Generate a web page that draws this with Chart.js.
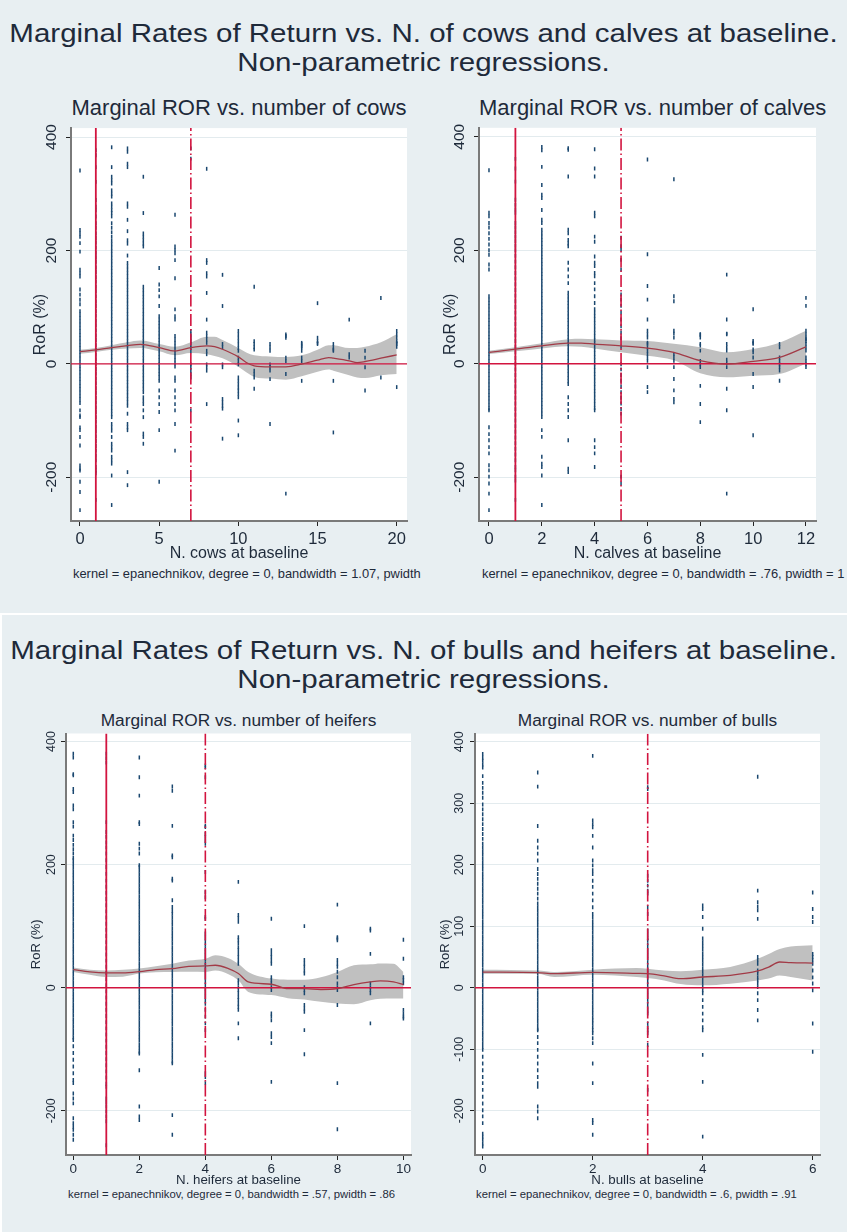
<!DOCTYPE html>
<html><head><meta charset="utf-8">
<script src="https://cdn.jsdelivr.net/npm/chart.js@4.4.1/dist/chart.umd.min.js"></script>
<style>
html,body{margin:0;padding:0}
body{background:#e8eff2;width:847px;height:1232px;position:relative;overflow:hidden;font-family:"Liberation Sans",Arial,sans-serif;color:#1e2a3a}
.abs{position:absolute;white-space:nowrap}
.main{left:0;width:847px;text-align:center;font-size:26px;line-height:29px;transform:scaleX(1.135);transform-origin:423.5px 0}
.pt{text-align:center;line-height:1}
.note{overflow:hidden;line-height:1}
canvas{position:absolute}
</style></head><body>
<div class="abs main" style="top:19px">Marginal Rates of Return vs. N. of cows and calves at baseline.<br>Non-parametric regressions.</div>
<div class="abs" style="left:0;top:613px;width:847px;height:2px;background:#fff"></div>
<div class="abs" style="left:0;top:613px;width:2px;height:619px;background:#fff"></div>
<div class="abs main" style="top:636px">Marginal Rates of Return vs. N. of bulls and heifers at baseline.<br>Non-parametric regressions.</div>

<div class="abs pt" style="left:71px;width:336px;top:97px;font-size:22px">Marginal ROR vs. number of cows</div>
<div class="abs pt" style="left:479px;width:337px;top:97px;font-size:22px">Marginal ROR vs. number of calves</div>
<div class="abs pt" style="left:66px;width:345px;top:712px;font-size:17.3px">Marginal ROR vs. number of heifers</div>
<div class="abs pt" style="left:475px;width:345px;top:712px;font-size:17.3px">Marginal ROR vs. number of bulls</div>

<div class="abs note" style="left:73px;width:350px;top:568px;font-size:12.9px">kernel = epanechnikov, degree = 0, bandwidth = 1.07, pwidth</div>
<div class="abs note" style="left:482px;width:365px;top:568px;font-size:12.9px">kernel = epanechnikov, degree = 0, bandwidth = .76, pwidth = 1</div>
<div class="abs note" style="left:68px;width:355px;top:1189px;font-size:11.3px">kernel = epanechnikov, degree = 0, bandwidth = .57, pwidth = .86</div>
<div class="abs note" style="left:476px;width:371px;top:1189px;font-size:11.3px">kernel = epanechnikov, degree = 0, bandwidth = .6, pwidth = .91</div>

<canvas id="c1" width="404" height="446" style="left:20px;top:120px"></canvas>
<canvas id="c2" width="417" height="446" style="left:430px;top:120px"></canvas>
<canvas id="c3" width="409" height="462" style="left:15px;top:728px"></canvas>
<canvas id="c4" width="422" height="462" style="left:425px;top:728px"></canvas>

<script>
// ================= DATA =================
// ---- Cows ----
const cowsX = [0,1,2,3,4,5,6,7,8,9,10,11,12,13,14,15,16,17,18,19,20];
const cowsRoR = [
 [341,236,230,224,213,198,166,160,154,131,122,113,105,93,87,81,75,69,63,57,51,45,39,33,27,21,15,9,3,-3,-9,-15,-21,-27,-33,-39,-45,-51,-57,-63,-69,-82,-91,-94,-112,-117,-129,-144,-179,-185,-188,-208,-226,-258],
 [377,368,347,321,289,277,271,260,248,240,230,222,214,205,196,188,180,170,162,153,145,136,128,119,110,102,93,85,76,68,59,50,42,33,25,16,8,0,-9,-17,-26,-34,-43,-51,-60,-68,-77,-85,-94,-102,-111,-119,-128,-136,-145,-153,-162,-170,-182,-188,-193,-240],
 [382,347,330,324,318,306,300,295,283,277,271,266,260,248,240,232,224,217,211,205,199,193,187,181,175,169,163,157,151,145,139,133,127,121,115,109,103,97,91,85,79,73,67,61,55,49,43,37,31,25,19,13,7,1,-5,-11,-17,-23,-29,-35,-41,-47,-53,-59,-65,-71,-77,-83,-89,-94,-106,-112,-118,-129,-141,-147,-153,-164,-170,-176,-197,-249],
 [380,374,353,347,283,277,254,234,218,212,191,178,172,166,160,154,148,142,136,130,124,118,112,106,100,94,88,82,76,70,64,58,52,46,40,34,28,22,16,10,4,-2,-8,-14,-20,-26,-32,-38,-44,-50,-56,-62,-68,-74,-88,-106,-112,-117,-191,-214],
 [330,266,230,224,218,212,207,136,130,124,118,112,106,100,94,88,82,76,70,64,58,52,46,40,34,28,22,16,10,4,-2,-8,-14,-20,-26,-32,-38,-44,-50,-59,-65,-71,-82,-94,-123,-129,-141],
 [169,140,130,119,102,84,78,72,66,60,54,48,42,36,30,24,18,12,6,0,-6,-12,-18,-24,-30,-47,-59,-71,-85,-117,-208],
 [263,207,201,195,183,151,96,84,78,49,43,37,31,25,19,13,7,1,-5,-24,-30,-47,-59,-71,-82,-106,-153],
 [380,362,58,52,46,40,34,28,22,-1,-6,-12,-18,-24,-82],
 [344,183,178,160,154,125,78,55,49,43,37,23,17,-1,-6,-12,-71],
 [157,102,35,29,-1,-6,-62,-68,-74,-79,-132],
 [58,52,46,40,34,28,23,11,5,-1,-24,-30,-36,-42,-47,-53,-59,-100,-126],
 [136,40,35,29,25,-12,-18,-24,-44],
 [35,29,23,-1,-6,-12,-27,-106],
 [52,49,46,11,5,-18,-229],
 [37,35,31,29,23,11,5,-30],
 [107,46,40,37,35],
 [35,29,25,23,-30,-121],
 [78,17,11],
 [23,11,-6,-47],
 [116,-24],
 [58,52,46,40,37,35,30,-41]
];
const cowsGridX = [0,1,2,3,3.8,5,6,7,8,8.5,9,10,10.5,11,12,13,14,15,15.7,16,17,17.5,18,19,20];
const cowsFit   = [21.6,24.6,28.7,32.2,34.5,28.7,22.8,28.7,31.6,30.4,25.7,12.3,2.3,-3.5,-5.3,-5.3,-0.6,6.4,11.1,9.9,5.3,2.3,4.1,9.9,15.8];
const cowsUpper = [25,28,33,38,41,35,30,38,48,48,42,28,20,15,13,12,15,25,33,33,28,28,30,38,52];
const cowsLower = [18,21,25,27,28,22,15,19,17,14,10,-5,-15,-23,-26,-28,-22,-14,-10,-12,-20,-24,-25,-20,-18];
const cowsXTicks = [0,5,10,15,20];
const cowsYTicks = [-200,0,200,400];
const cowsThresholds = [1,7];

// ---- Calves ----
const calvesX = [0,1,2,3,4,5,6,7,8,9,10,11,12];
const calvesRoR = [
 [341,266,260,248,240,230,220,210,200,192,175,166,119,113,107,101,95,89,83,77,71,65,59,53,47,41,35,29,23,17,11,5,-1,-7,-13,-19,-25,-31,-37,-43,-49,-55,-61,-67,-73,-79,-82,-112,-124,-135,-147,-158,-179,-188,-199,-211,-229,-258],
 [361,344,321,289,280,272,266,248,240,232,224,216,208,200,190,180,170,160,150,140,130,120,110,100,90,80,70,60,50,40,30,20,10,0,-10,-20,-30,-40,-50,-60,-70,-80,-90,-100,-110,-120,-130,-140,-150,-160,-170,-182,-188,-199,-206,-240],
 [382,376,347,315,298,292,271,254,248,236,230,224,218,212,206,200,194,188,182,176,170,164,158,152,146,140,134,128,122,116,110,104,98,92,86,80,74,68,62,56,50,44,38,32,26,20,14,8,2,-4,-10,-16,-22,-28,-34,-40,-46,-52,-58,-64,-70,-76,-82,-88,-94,-117,-129,-164,-176,-182,-197,-249],
 [380,377,330,236,230,218,212,207,178,166,154,142,125,119,113,107,101,95,89,83,77,71,65,59,53,47,41,35,29,23,17,11,5,-1,-7,-13,-19,-25,-31,-36,-59,-71,-82,-94,-135,-185,-191],
 [378,344,330,266,260,224,215,189,178,172,160,154,142,131,119,107,96,90,84,78,72,66,60,54,48,42,36,30,24,18,12,6,0,-6,-12,-18,-24,-30,-36,-42,-48,-54,-60,-66,-72,-78,-82,-135,-147,-158,-182],
 [222,207,201,183,166,122,113,102,90,78,66,55,45,30,-1,-10,-20,-30,-40,-50,-60,-70,-80,-88,-199,-211],
 [360,193,137,113,78,58,52,46,37,35,29,23,17,11,5,-6,-41,-50],
 [325,119,110,58,53,46,17,11,5,-6,-27,-47,-62,-68],
 [52,51,46,35,32,23,5,-1,-6,-39,-71,-103],
 [157,78,53,52,35,29,23,7,1,-6,-44,-82,-229],
 [96,40,37,35,25,20,11,-18,-41,-126],
 [35,29,11,5,-1,-6,-12,-30],
 [116,102,58,52,46,43,40,35,29,23,11,5,-1,-6]
];
const calvesGridX = [0,1,2,3,3.5,4,5,6,7,8,9,10,11,12];
const calvesFit   = [19.9,25.7,31.6,36.3,36.3,34.5,31.6,27.5,19.9,5.3,-0.6,4.1,11.1,29.8];
const calvesUpper = [23,29,36,43,44,43,41,40,35,29,20,26,37,58];
const calvesLower = [17,22,27,31,30,27,20,14,6,-17,-24,-21,-18,0];
const calvesXTicks = [0,2,4,6,8,10,12];
const calvesYTicks = [-200,0,200,400];
const calvesThresholds = [1,5];

// ---- Heifers ----
const heifersX = [0,1,2,3,4,5,6,7,8,9,10];
const heifersRoR = [
 [380,374,347,345,323,318,296,290,269,262,247,240,232,225,218,211,207,201,195,189,183,177,171,165,159,153,147,141,135,129,123,117,111,105,99,93,87,81,75,69,63,57,51,45,39,33,27,21,15,9,3,-3,-9,-15,-21,-27,-33,-39,-45,-51,-57,-63,-69,-75,-81,-85,-95,-106,-117,-128,-139,-150,-155,-172,-180,-188,-212,-220,-226,-231,-239,-247],
 [380,373,366,269,253,245,236,228,218,207,196,185,174,164,154,144,134,124,114,104,94,84,74,64,54,44,34,24,14,4,-6,-16,-26,-36,-46,-56,-66,-76,-86,-96,-106,-116,-126,-136,-146,-156,-161,-180,-186,-193,-201,-209,-217,-256],
 [374,342,312,269,266,234,226,218,199,196,190,184,178,172,166,160,154,148,142,136,130,124,118,112,106,100,94,88,82,76,70,64,58,52,46,40,34,28,22,16,10,4,-2,-8,-14,-20,-26,-32,-38,-44,-50,-56,-62,-68,-74,-80,-86,-92,-98,-104,-107,-134,-193,-209,-215],
 [327,320,263,215,212,177,174,142,131,125,120,114,108,102,96,90,84,78,72,66,60,54,48,42,36,30,24,18,12,6,0,-6,-12,-18,-24,-30,-36,-42,-48,-54,-60,-66,-72,-78,-84,-90,-96,-102,-108,-114,-120,-123,-207,-239],
 [361,358,342,263,261,250,245,239,234,188,155,147,115,112,88,82,76,70,64,58,52,46,40,34,28,22,16,10,4,-2,-8,-14,-20,-26,-36,-47,-58,-69,-139,-145,-155],
 [172,118,113,107,82,77,72,66,61,55,50,44,39,12,7,1,-4,-9,-15,-20,-26,-31,-36,-58,-82],
 [112,61,55,50,44,39,17,12,7,1,-4,-42,-47,-53,-74,-80,-90,-153],
 [100,45,39,34,28,23,1,-4,-9,-28,-34,-39,-69,-108],
 [135,80,82,77,45,39,34,26,17,7,1,-4,-28,-155,-230],
 [96,93,55,7,1,-4,-9,-58],
 [78,47,17,12,7,-36,-42,-47,-50]
];
const heifersGridX = [0,0.5,1,1.5,2,2.5,3,3.5,4,4.3,4.7,5,5.3,6,6.5,7,7.5,8,8.5,9,9.3,9.7,10];
const heifersFit   = [29.4,25.6,24,24,26,29.4,31,34.8,35.4,36.5,31,23,9.4,5.6,-1.6,-1.6,-3,-1.6,5,9.4,11,9.4,5];
const heifersUpper = [32.7,29,28,29,31,35,39,44,47,52.7,48,39,25.6,14.8,13,13,17,25.6,36.4,38,39.5,39,25.6];
const heifersLower = [25.6,21,17.5,18,23,25,25.6,26,25.6,28,22,12,-6.8,-12,-17,-19.2,-23,-25.7,-26.8,-20.3,-18,-17.6,-17.6];
const heifersXTicks = [0,2,4,6,8,10];
const heifersYTicks = [-200,0,200,400];
const heifersThresholds = [1,4];

// ---- Bulls ----
const bullsX = [0,1,2,3,4,5,6];
const bullsRoR = [
 [380,374,369,363,358,344,333,325,317,309,298,290,282,274,266,258,250,242,234,228,222,216,210,204,198,192,186,180,174,168,162,156,150,144,138,132,126,120,114,108,102,96,90,84,78,72,66,60,54,48,42,36,30,24,18,12,6,0,-6,-12,-18,-24,-30,-36,-42,-48,-54,-60,-66,-72,-78,-84,-90,-96,-101,-112,-123,-134,-145,-155,-166,-177,-188,-199,-209,-220,-237,-242,-247,-253,-258],
 [350,327,263,239,228,218,207,193,185,177,169,161,153,145,137,131,125,119,113,107,101,95,89,83,77,71,65,59,53,47,41,35,29,23,17,11,5,-1,-7,-13,-19,-25,-31,-37,-43,-49,-55,-61,-67,-69,-80,-90,-101,-112,-123,-134,-145,-155,-161,-193,-201,-212],
 [377,272,266,261,247,228,207,199,191,185,174,164,153,142,131,120,114,108,102,96,90,84,78,72,66,60,54,48,42,36,30,24,18,12,6,0,-6,-12,-18,-24,-30,-36,-42,-48,-53,-58,-64,-69,-74,-82,-90,-123,-155,-215,-220,-239],
 [326,323,182,174,166,158,153,131,120,93,87,81,77,71,65,59,53,47,41,35,29,23,17,11,5,-1,-7,-13,-19,-25,-31,-37,-42,-58,-64,-69,-74,-93,-166],
 [134,128,115,96,80,74,68,62,56,50,44,38,32,26,20,14,8,2,-4,-9,-20,-31,-42,-53,-64,-69,-109,-153,-242],
 [343,158,139,132,126,112,50,45,39,28,23,17,12,7,1,-9,-20,-36,-53],
 [155,128,115,107,55,50,45,39,28,17,7,-4,-58,-104]
];
const bullsGridX = [0,1,1.3,2,2.8,3,3.3,3.6,4,4.5,5,5.2,5.4,5.6,6];
const bullsFit   = [25.6,24.6,22.9,25.1,23.5,22.9,19.2,14.8,17.5,20.2,27.3,33.7,41.9,40.8,40.2];
const bullsUpper = [29.4,28,25.6,29.4,32,31,28,27,29.4,33.7,47,55,63,67,69];
const bullsLower = [23,23,17.5,21.3,17.5,16,12,6,4,6.7,12,15,20,17.5,12];
const bullsXTicks = [0,2,4,6];
const bullsYTicks = [-200,-100,0,100,200,300,400];
const bullsThresholds = [null,3];

// ================= STYLE / LAYOUT =================
const FONT = '"Liberation Sans", Arial, sans-serif';
const TXT = '#1e2a3a', NAVY = '#1a476f', FITC = '#a23b47', BAND = '#c0c0c0',
      RED = '#d2143f', GRID = '#e3ebee', AXIS = '#7a7a7a', TICK = '#222';

const whiteArea = {
  id: 'whiteArea',
  beforeDraw(chart) {
    const a = chart.chartArea, c = chart.ctx;
    c.save(); c.fillStyle = '#fff'; c.fillRect(a.left, a.top, a.right - a.left, a.bottom - a.top); c.restore();
  }
};

function pts(xs, cols) { return xs.flatMap((x, i) => cols[i].map(y => ({x, y}))); }
function curve(xs, ys) { return xs.map((x, i) => ({x, y: ys[i]})); }

function makePanel(L) {
  const ds = [];
  ds.push({type:'line', data: curve(L.gridX, L.fit), borderColor: FITC, borderWidth: 1.3,
           pointRadius: 0, cubicInterpolationMode: 'monotone', fill: false});
  ds.push({type:'line', data: [{x:L.xMin, y:0}, {x:L.xMax, y:0}], borderColor: RED, borderWidth: 1.4, pointRadius: 0, fill: false});
  if (L.thr[0] != null)
    ds.push({type:'line', data: [{x:L.thr[0], y:L.yMin}, {x:L.thr[0], y:L.yMax}], borderColor: RED, borderWidth: 1.8, pointRadius: 0, fill: false});
  ds.push({type:'line', data: [{x:L.thr[1], y:L.yMin}, {x:L.thr[1], y:L.yMax}], borderColor: RED, borderWidth: 1.6,
           borderDash: [12, 3, 1.5, 3], pointRadius: 0, fill: false});
  ds.push({type:'scatter', data: pts(L.xs, L.cols), pointStyle: 'line', pointRotation: 90, pointRadius: 1.95,
           pointBorderWidth: 1.5, pointBorderColor: NAVY, pointBackgroundColor: NAVY});
  ds.push({type:'line', data: curve(L.gridX, L.upper), borderColor: 'rgba(0,0,0,0)', borderWidth: 0, pointRadius: 0,
           backgroundColor: BAND, fill: '+1', cubicInterpolationMode: 'monotone'});
  ds.push({type:'line', data: curve(L.gridX, L.lower), borderColor: 'rgba(0,0,0,0)', borderWidth: 0, pointRadius: 0,
           fill: false, cubicInterpolationMode: 'monotone'});

  new Chart(document.getElementById(L.id), {
    type: 'line',
    data: { datasets: ds },
    options: {
      responsive: false, animation: false, events: [], devicePixelRatio: 1,
      layout: { padding: { top: L.padT, right: L.padR, left: 0, bottom: 0 } },
      plugins: { legend: {display: false}, tooltip: {enabled: false}, title: {display: false} },
      scales: {
        x: {
          type: 'linear', min: L.xMin, max: L.xMax,
          afterBuildTicks: s => { s.ticks = L.xTicks.map(v => ({value: v})); },
          afterFit: s => { s.height = L.xH; },
          grid: { drawOnChartArea: false, drawTicks: true, tickLength: 5, tickColor: TICK, tickWidth: 1 },
          border: { display: true, color: AXIS, width: 2 },
          ticks: { font: {family: FONT, size: L.xtf}, color: TXT, padding: L.xtp, maxRotation: 0, autoSkip: false },
          title: { display: true, text: L.xTitle, font: {family: FONT, size: L.xTitleF}, color: TXT,
                   padding: {top: 0, bottom: L.xTitlePB} }
        },
        y: {
          type: 'linear', min: L.yMin, max: L.yMax,
          afterBuildTicks: s => { s.ticks = L.yTicks.map(v => ({value: v})); },
          afterFit: s => { s.width = L.yW; },
          grid: { color: GRID, lineWidth: 1, drawTicks: true, tickLength: 5, tickColor: TICK, tickWidth: 1 },
          border: { display: true, color: AXIS, width: 2 },
          ticks: { font: {family: FONT, size: L.ytf}, color: TXT, padding: L.ytp, minRotation: 90, maxRotation: 90,
                   crossAlign: 'center', autoSkip: false },
          title: { display: true, text: 'RoR (%)', font: {family: FONT, size: L.yTitleF}, color: TXT,
                   padding: {top: L.yTitlePT, bottom: 0} }
        }
      }
    },
    plugins: [whiteArea]
  });
}

const topFonts = {xtf: 16.5, ytf: 15.5, xTitleF: 16, yTitleF: 16, xtp: 3.1, xTitlePB: 2.4, xH: 45, padT: 6};
const botFonts = {xtf: 13.5, ytf: 12.5, xTitleF: 13.3, yTitleF: 13, xtp: 1.2, xTitlePB: 2, xH: 35, padT: 5};

makePanel(Object.assign({}, topFonts, {
  id: 'c1', padR: 17, yW: 51, ytp: -1.2, yTitlePT: 11.4,
  xMin: -0.568, xMax: 20.65, yMin: -277.2, yMax: 415.8,
  xs: cowsX, cols: cowsRoR, gridX: cowsGridX, fit: cowsFit, upper: cowsUpper, lower: cowsLower,
  xTicks: cowsXTicks, yTicks: cowsYTicks, thr: cowsThresholds, xTitle: 'N. cows at baseline'
}));
makePanel(Object.assign({}, topFonts, {
  id: 'c2', padR: 31, yW: 49, ytp: -1.5, yTitlePT: 11.4,
  xMin: -0.378, xMax: 12.38, yMin: -277.2, yMax: 415.8,
  xs: calvesX, cols: calvesRoR, gridX: calvesGridX, fit: calvesFit, upper: calvesUpper, lower: calvesLower,
  xTicks: calvesXTicks, yTicks: calvesYTicks, thr: calvesThresholds, xTitle: 'N. calves at baseline'
}));
makePanel(Object.assign({}, botFonts, {
  id: 'c3', padR: 13, yW: 51, ytp: -3.2, yTitlePT: 13.9,
  xMin: -0.221, xMax: 10.23, yMin: -271.8, yMax: 413,
  xs: heifersX, cols: heifersRoR, gridX: heifersGridX, fit: heifersFit, upper: heifersUpper, lower: heifersLower,
  xTicks: heifersXTicks, yTicks: heifersYTicks, thr: heifersThresholds, xTitle: 'N. heifers at baseline'
}));
makePanel(Object.assign({}, botFonts, {
  id: 'c4', padR: 27, yW: 50, ytp: -1.8, yTitlePT: 12.9,
  xMin: -0.14, xMax: 6.133, yMin: -271.8, yMax: 413,
  xs: bullsX, cols: bullsRoR, gridX: bullsGridX, fit: bullsFit, upper: bullsUpper, lower: bullsLower,
  xTicks: bullsXTicks, yTicks: bullsYTicks, thr: bullsThresholds, xTitle: 'N. bulls at baseline'
}));
</script>
</body></html>
